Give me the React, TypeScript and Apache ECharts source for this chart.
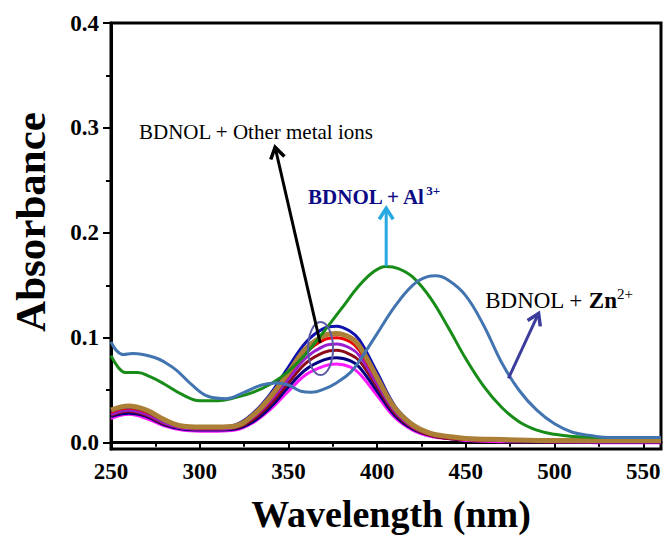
import React, { useEffect, useRef } from 'react';
import * as echarts from 'echarts';

const FONT = "'Liberation Serif', 'Times New Roman', serif";

// Axis ticks
const xTicks = [250, 300, 350, 400, 450, 500, 550];
const xMinorTicks = [275, 325, 375, 425, 475, 525];
const yTicks = [0, 0.1, 0.2, 0.3, 0.4];
const yMinorTicks = [0.05, 0.15, 0.25, 0.35];

// BDNOL + Zn2+
const znWavelength = [250, 253, 257, 262, 268, 275, 280, 287, 295, 305, 315, 325, 335, 343, 350, 357, 363, 370, 377, 385, 392, 400, 410, 420, 428, 433, 440, 450, 460, 470, 480, 490, 500, 510, 520, 530, 545, 560];
const znAbsorbance = [0.096, 0.088, 0.084, 0.085, 0.084, 0.081, 0.077, 0.069, 0.056, 0.044, 0.042, 0.048, 0.055, 0.057, 0.055, 0.049, 0.048, 0.051, 0.057, 0.067, 0.083, 0.104, 0.130, 0.150, 0.158, 0.159, 0.155, 0.140, 0.112, 0.077, 0.050, 0.031, 0.018, 0.010, 0.007, 0.005, 0.005, 0.005];

// BDNOL + Al3+
const alWavelength = [250, 254, 258, 265, 272, 280, 290, 300, 310, 320, 330, 340, 350, 360, 370, 380, 390, 398, 405, 412, 420, 430, 440, 450, 460, 470, 480, 490, 500, 510, 530, 560];
const alAbsorbance = [0.083, 0.072, 0.067, 0.067, 0.063, 0.056, 0.046, 0.040, 0.040, 0.043, 0.048, 0.056, 0.068, 0.085, 0.106, 0.128, 0.150, 0.163, 0.168, 0.166, 0.158, 0.138, 0.110, 0.080, 0.054, 0.034, 0.020, 0.012, 0.008, 0.006, 0.005, 0.005];

// BDNOL + other metal ions (shared wavelength grid)
const metalWavelength = [250, 260, 270, 280, 290, 300, 310, 320, 330, 340, 350, 360, 370, 377, 385, 390, 400, 410, 420, 430, 440, 450, 470, 500, 530, 560];
const metalMagenta = [0.023, 0.027, 0.023, 0.016, 0.012, 0.011, 0.011, 0.012, 0.019, 0.032, 0.049, 0.065, 0.073, 0.075, 0.072, 0.066, 0.045, 0.024, 0.012, 0.006, 0.004, 0.002, 0.001, 0.001, 0.000, 0.000];
const metalNavyLow = [0.025, 0.028, 0.025, 0.017, 0.013, 0.012, 0.012, 0.013, 0.020, 0.034, 0.053, 0.070, 0.079, 0.081, 0.078, 0.072, 0.049, 0.026, 0.013, 0.007, 0.004, 0.003, 0.002, 0.001, 0.001, 0.001];
const metalMaroon = [0.026, 0.030, 0.026, 0.018, 0.014, 0.013, 0.013, 0.014, 0.022, 0.037, 0.057, 0.076, 0.086, 0.088, 0.084, 0.078, 0.053, 0.028, 0.014, 0.007, 0.004, 0.003, 0.002, 0.001, 0.001, 0.001];
const metalPurple = [0.027, 0.031, 0.027, 0.019, 0.014, 0.013, 0.013, 0.015, 0.024, 0.040, 0.061, 0.081, 0.092, 0.094, 0.090, 0.083, 0.056, 0.030, 0.015, 0.008, 0.005, 0.003, 0.002, 0.001, 0.001, 0.001];
const metalRed = [0.029, 0.033, 0.029, 0.021, 0.015, 0.014, 0.014, 0.016, 0.025, 0.042, 0.065, 0.086, 0.098, 0.100, 0.096, 0.088, 0.060, 0.032, 0.016, 0.008, 0.005, 0.003, 0.002, 0.001, 0.001, 0.001];
const metalNavyHigh = [0.030, 0.034, 0.030, 0.021, 0.016, 0.015, 0.015, 0.017, 0.028, 0.047, 0.072, 0.096, 0.109, 0.111, 0.106, 0.098, 0.067, 0.035, 0.018, 0.009, 0.006, 0.004, 0.002, 0.001, 0.001, 0.001];
const metalBrown = [0.031, 0.035, 0.031, 0.022, 0.016, 0.015, 0.015, 0.016, 0.026, 0.044, 0.067, 0.090, 0.102, 0.104, 0.100, 0.092, 0.062, 0.033, 0.017, 0.009, 0.006, 0.004, 0.003, 0.002, 0.002, 0.002];

const metalSeries = [
  { name: 'Magenta', values: metalMagenta, color: '#ff1aff', width: 3 },
  { name: 'Navy low', values: metalNavyLow, color: '#000080', width: 3 },
  { name: 'Maroon', values: metalMaroon, color: '#8b0a1a', width: 3 },
  { name: 'Purple', values: metalPurple, color: '#9a1ed0', width: 3 },
  { name: 'Red', values: metalRed, color: '#ee0000', width: 3 },
  { name: 'Navy high', values: metalNavyHigh, color: '#1010b0', width: 3 },
  { name: 'Brown', values: metalBrown, color: '#ab7f36', width: 5 },
];

// Annotation anchors (data coordinates)
const otherArrow = { from: [367.9, 0.095], to: [342.5, 0.2816] };
const alArrow = { from: [405.1, 0.1683], to: [405.1, 0.2235] };
const znArrow = { from: [474.0, 0.0613], to: [491.0, 0.1232] };
const ionsRingCenter = [368.1, 0.0897];
const otherLabelAt = [265.8, 0.2964];
const alLabelAt = [361.1, 0.2343];
const znLabelAt = [460.9, 0.1359];

const pairs = (xs: number[], ys: number[]) => xs.map((x, i) => [x, ys[i]]);

export default function App() {
  const ref = useRef<HTMLDivElement>(null);

  useEffect(() => {
    document.body.style.margin = '0';
    if (!ref.current) return;
    const chart = echarts.init(ref.current, undefined, { renderer: 'svg' });

    const lineSeries = (name: string, data: number[][], color: string, width: number) => ({
      type: 'line',
      name,
      data,
      smooth: 0.4,
      showSymbol: false,
      symbol: 'none',
      lineStyle: { color, width },
      itemStyle: { color },
      xAxisIndex: 0,
      yAxisIndex: 0,
    });

    const axisFont = { fontFamily: FONT, fontWeight: 'bold', fontSize: 23, color: '#000' };

    chart.setOption({
      animation: false,
      backgroundColor: '#fff',
      grid: { left: 111, top: 23, right: 3, bottom: 89, show: true, borderColor: '#000', borderWidth: 3 },
      xAxis: [
        {
          type: 'value', min: 250, max: 560, position: 'bottom',
          axisLine: { show: true, lineStyle: { color: '#000', width: 3 } },
          axisTick: { show: true, length: 6, customValues: xTicks, lineStyle: { color: '#000', width: 2 } },
          axisLabel: { ...axisFont, margin: 11, customValues: xTicks },
          splitLine: { show: false },
        },
        {
          type: 'value', min: 250, max: 560, position: 'bottom',
          axisLine: { show: false },
          axisTick: { show: true, length: 4, customValues: xMinorTicks, lineStyle: { color: '#000', width: 2 } },
          axisLabel: { show: false },
          splitLine: { show: false },
        },
      ],
      yAxis: [
        {
          type: 'value', min: -0.006, max: 0.4, position: 'left',
          axisLine: { show: true, lineStyle: { color: '#000', width: 3 } },
          axisTick: { show: true, length: 8, customValues: yTicks, lineStyle: { color: '#000', width: 2 } },
          axisLabel: { ...axisFont, margin: 12, customValues: yTicks, formatter: (v: number) => v.toFixed(1) },
          splitLine: { show: false },
        },
        {
          type: 'value', min: -0.006, max: 0.4, position: 'left',
          axisLine: { show: false },
          axisTick: { show: true, length: 5, customValues: yMinorTicks, lineStyle: { color: '#000', width: 2 } },
          axisLabel: { show: false },
          splitLine: { show: false },
        },
      ],
      series: [
        ...metalSeries.map((s) => lineSeries(s.name, pairs(metalWavelength, s.values), s.color, s.width)),
        lineSeries('BDNOL + Al3+', pairs(alWavelength, alAbsorbance), '#188c18', 3),
        lineSeries('BDNOL + Zn2+', pairs(znWavelength, znAbsorbance), '#4274b0', 3),
      ],
    });

    const px = (p: number[]) => chart.convertToPixel({ xAxisIndex: 0, yAxisIndex: 0 }, p) as number[];

    const arrow = (from: number[], to: number[], color: string) => {
      const a = px(from);
      const b = px(to);
      const dx = b[0] - a[0];
      const dy = b[1] - a[1];
      const len = Math.hypot(dx, dy);
      const ux = dx / len;
      const uy = dy / len;
      const head = 11;
      const half = 7;
      return [
        { type: 'line', shape: { x1: a[0], y1: a[1], x2: b[0], y2: b[1] }, style: { stroke: color, lineWidth: 3 }, z: 100 },
        {
          type: 'polyline',
          shape: {
            points: [
              [b[0] - head * ux - half * uy, b[1] - head * uy + half * ux],
              [b[0], b[1]],
              [b[0] - head * ux + half * uy, b[1] - head * uy - half * ux],
            ],
          },
          style: { stroke: color, lineWidth: 3.5, fill: 'none', lineJoin: 'miter' },
          z: 100,
        },
      ];
    };

    const ring = px(ionsRingCenter);
    const otherPos = px(otherLabelAt);
    const alPos = px(alLabelAt);
    const znPos = px(znLabelAt);

    chart.setOption({
      graphic: [
        {
          type: 'ellipse',
          shape: { cx: ring[0], cy: ring[1], rx: 12.5, ry: 26.5 },
          style: { fill: 'none', stroke: '#5b5aa6', lineWidth: 2 },
          z: 100,
        },
        ...arrow(otherArrow.from, otherArrow.to, '#000'),
        ...arrow(alArrow.from, alArrow.to, '#26a8e0'),
        ...arrow(znArrow.from, znArrow.to, '#3c3c9c'),
        {
          type: 'text', x: otherPos[0], y: otherPos[1], z: 100,
          style: { text: 'BDNOL + Other metal ions', fontFamily: FONT, fontSize: 21, fill: '#000', align: 'left', verticalAlign: 'middle' },
        },
        {
          type: 'text', x: alPos[0], y: alPos[1], z: 100,
          style: {
            text: '{m|BDNOL + Al}{s|3+}',
            align: 'left', verticalAlign: 'middle',
            rich: {
              m: { fontFamily: FONT, fontSize: 21, fontWeight: 'bold', fill: '#0b0b85', lineHeight: 26 },
              s: { fontFamily: FONT, fontSize: 13, fontWeight: 'bold', fill: '#0b0b85', verticalAlign: 'top', lineHeight: 14 },
            },
          },
        },
        {
          type: 'text', x: znPos[0], y: znPos[1], z: 100,
          style: {
            text: '{m|BDNOL + }{b|Zn}{s|2+}',
            align: 'left', verticalAlign: 'middle',
            rich: {
              m: { fontFamily: FONT, fontSize: 23, fill: '#000', lineHeight: 28 },
              b: { fontFamily: FONT, fontSize: 23, fontWeight: 'bold', fill: '#000', lineHeight: 28 },
              s: { fontFamily: FONT, fontSize: 15, fill: '#000', verticalAlign: 'top', lineHeight: 14 },
            },
          },
        },
        {
          type: 'text', x: 30, y: 222, rotation: Math.PI / 2, z: 100,
          style: { text: 'Absorbance', fontFamily: FONT, fontSize: 43, fontWeight: 'bold', fill: '#000', align: 'center', verticalAlign: 'middle' },
        },
        {
          type: 'text', x: 391, y: 514, z: 100,
          style: { text: 'Wavelength (nm)', fontFamily: FONT, fontSize: 38, fontWeight: 'bold', fill: '#000', align: 'center', verticalAlign: 'middle' },
        },
      ],
    });

    return () => chart.dispose();
  }, []);

  return <div ref={ref} style={{ width: 664, height: 538 }} />;
}
